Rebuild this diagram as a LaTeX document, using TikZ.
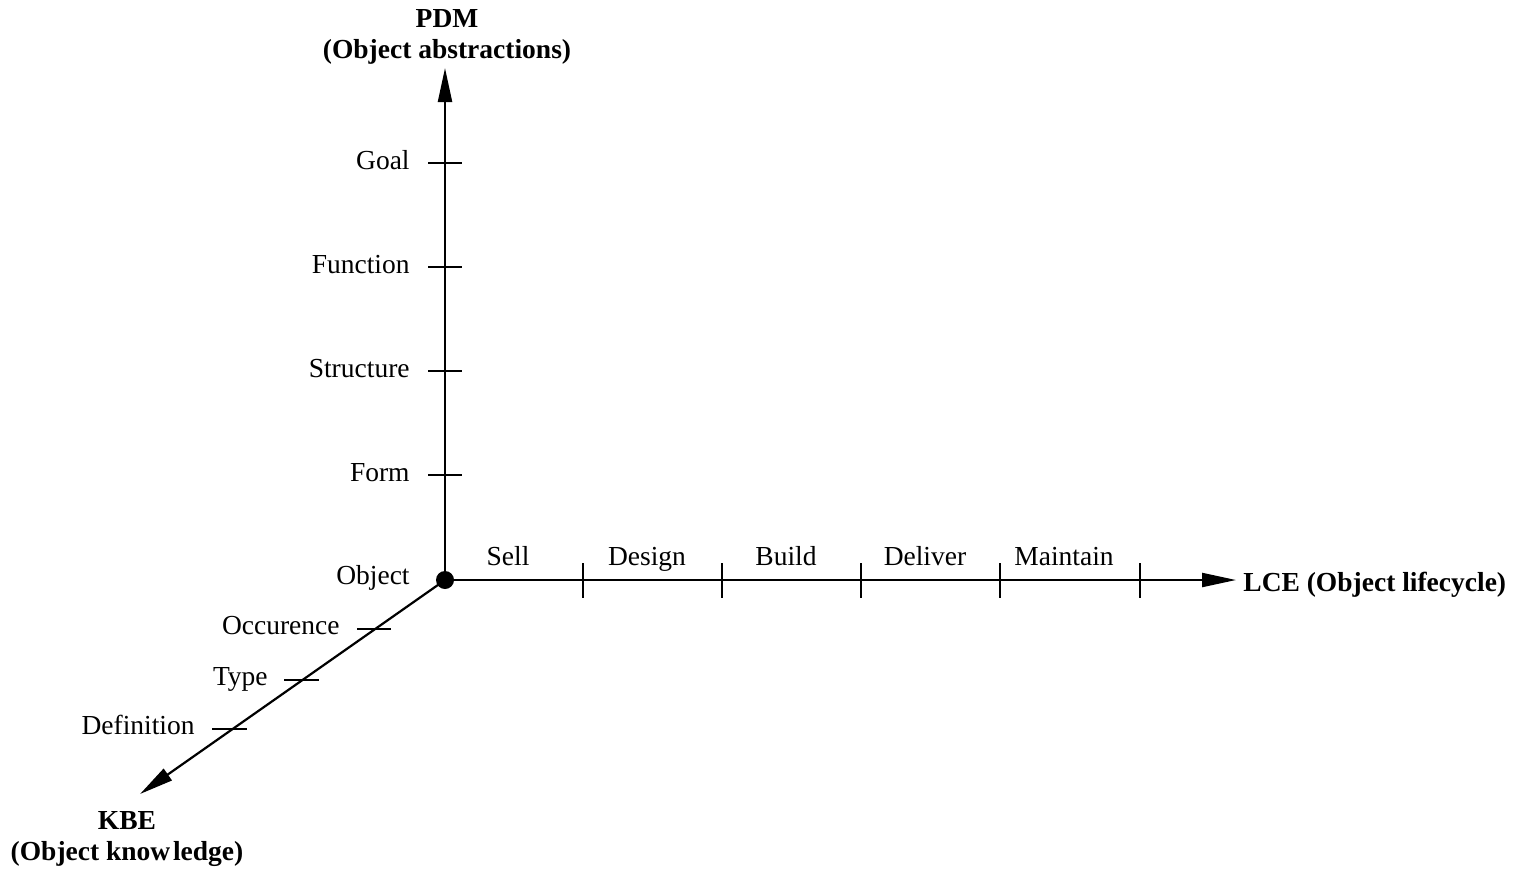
\documentclass[tikz,border=0pt]{standalone}
\usepackage{fontspec}
\setmainfont{Liberation Serif}
\usetikzlibrary{arrows.meta}
\begin{document}
\begin{tikzpicture}[x=0.5pt,y=-0.5pt,
  axis/.style={line width=1.1pt,-{Triangle[length=17pt,width=7pt]}},
  tick/.style={line width=0.9pt},
  lab/.style={inner sep=0pt,font=\fontsize{13.75}{16.5}\selectfont},
  ttl/.style={inner sep=0pt,font=\fontsize{13.75}{16.5}\selectfont\bfseries,align=center}]
\useasboundingbox (0,0) rectangle (1513,869);
\coordinate (O) at (445,580);
\coordinate (ytip) at (445,68);
\coordinate (xtip) at (1236,580);
\coordinate (ztip) at (140,794);
\draw[axis] (O) -- (ytip);
\draw[axis] (O) -- (xtip);
\draw[axis] (O) -- (ztip);
\fill (O) circle (9);
% vertical ticks
\foreach \y/\t in {163/Goal,267/Function,371/Structure,475/Form}{
  \draw[tick] (428,\y) -- (462,\y);
  \node[lab,anchor=base east] at (410,\y+6) {\t};
}
\node[lab,anchor=base east] (obj) at (410,584) {Object};
% horizontal ticks
\foreach \x in {583,722,861,1000,1140}{
  \draw[tick] (\x,563) -- (\x,598);
}
\foreach \x/\t in {508/Sell,647/Design,786/Build,925/Deliver,1064/Maintain}{
  \node[lab,anchor=base] at (\x,565) {\t};
}
% diagonal ticks
\draw[tick] (357,629) -- (391,629);
\draw[tick] (284,680) -- (319,680);
\draw[tick] (212,729) -- (247,729);
\node[lab,anchor=base east] at (340,634) {Occurence};
\node[lab,anchor=base east] at (268,685) {Type};
\node[lab,anchor=base east] at (195,734) {Definition};
% titles
\node[ttl,anchor=base] (pdm) at (447,27) {PDM};
\node[ttl,anchor=base] (pdm2) at (447,58) {(Object abstractions)};
\node[ttl,anchor=base west] (lce) at (1243,591) {LCE (Object lifecycle)};
\node[ttl,anchor=base] (kbe) at (127,829) {KBE};
\node[ttl,anchor=base] (kbe2) at (127,860) {(Object know\kern0.1em ledge)};
\end{tikzpicture}
\end{document}
